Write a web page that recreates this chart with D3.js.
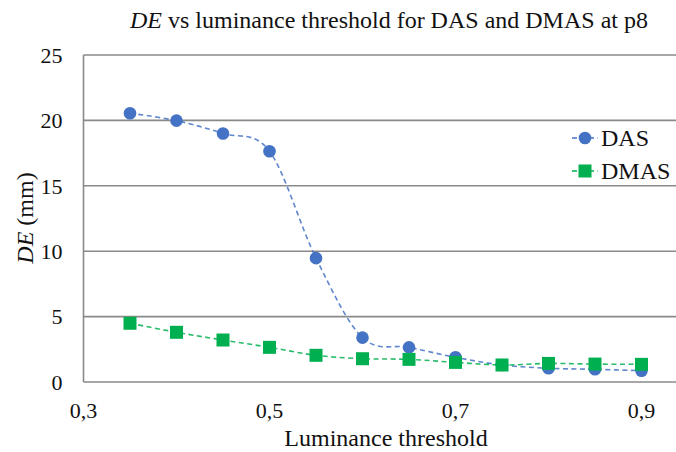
<!DOCTYPE html>
<html><head><meta charset="utf-8">
<script src="https://cdn.jsdelivr.net/npm/d3@7"></script>
</head><body style="margin:0">
<svg id="chart" width="676" height="452" style="font-family:'Liberation Serif'"></svg>
<script>
const thresholds = [0.35,0.40,0.45,0.50,0.55,0.60,0.65,0.70,0.75,0.80,0.85,0.90];
const dasValues  = [20.55,19.98,19.0,17.64,9.47,3.39,2.65,1.89,1.3,1.05,0.97,0.86];
const dmasValues = [4.49,3.8,3.21,2.65,2.04,1.78,1.73,1.5,1.3,1.42,1.37,1.35];
const xTicks = [0.3,0.5,0.7,0.9];
const yTicks = [0,5,10,15,20,25];
const seriesNames = ["DAS","DMAS"];
const colors = ["#4472C4","#00B050"];

const svg = d3.select("#chart");
const x = d3.scaleLinear().domain([0.3,1.0]).range([83.5,734.5]);
const y = d3.scaleLinear().domain([0,25]).range([382,55]);
const tickFs = "22px", labFs = "24px";
const styleText = (sel, size) => sel.style("font-family",'"Liberation Serif"').style("font-size",size).style("fill","#111");

svg.append("rect").attr("width",676).attr("height",452).attr("fill","#fff");
svg.append("g").selectAll("line").data(yTicks.filter(d=>d>0)).join("line")
  .attr("x1",x(0.3)).attr("x2",676).attr("y1",d=>y(d)).attr("y2",d=>y(d))
  .attr("stroke","#8a8a8a").attr("stroke-width",1.6);
svg.append("line").attr("x1",x(0.3)).attr("x2",x(0.3)).attr("y1",y(25)).attr("y2",y(0))
  .attr("stroke","#8a8a8a").attr("stroke-width",1.6);
svg.append("line").attr("x1",x(0.3)).attr("x2",676).attr("y1",y(0)).attr("y2",y(0))
  .attr("stroke","#8a8a8a").attr("stroke-width",1.6);

svg.append("g").selectAll("text").data(yTicks).join("text")
  .attr("x",x(0.3)-21).attr("y",d=>y(d)).attr("dy","0.35em").attr("text-anchor","end")
  .text(d=>d).call(s=>styleText(s,tickFs));
svg.append("g").selectAll("text").data(xTicks).join("text")
  .attr("x",d=>x(d)).attr("y",y(0)+36).attr("text-anchor","middle")
  .text(d=>d3.format(".1f")(d).replace(".",",")).call(s=>styleText(s,tickFs));

const data = [dasValues, dmasValues];
const line = d3.line().x((d,i)=>x(thresholds[i])).y(d=>y(d)).curve(d3.curveCardinal.tension(0));
data.forEach((vals,k)=>{
  svg.append("path").attr("d",line(vals)).attr("fill","none")
    .attr("stroke",colors[k]).attr("stroke-width",1.6).attr("stroke-dasharray","5,3.5").attr("opacity",0.85);
});
svg.append("g").selectAll("circle").data(dasValues).join("circle")
  .attr("cx",(d,i)=>x(thresholds[i])).attr("cy",d=>y(d)).attr("r",6.3)
  .attr("fill",colors[0]);
svg.append("g").selectAll("rect").data(dmasValues).join("rect")
  .attr("x",(d,i)=>x(thresholds[i])-6.5).attr("y",d=>y(d)-6.5).attr("width",13).attr("height",13)
  .attr("fill",colors[1]);

const lg = svg.append("g");
seriesNames.forEach((n,k)=>{
  const cy = 138 + k*33;
  lg.append("line").attr("x1",572).attr("x2",598).attr("y1",cy).attr("y2",cy)
    .attr("stroke",colors[k]).attr("stroke-width",1.6).attr("stroke-dasharray","5,3.5");
  if(k===0) lg.append("circle").attr("cx",585).attr("cy",cy).attr("r",6.3).attr("fill",colors[0]);
  else lg.append("rect").attr("x",585-6.5).attr("y",cy-6.5).attr("width",13).attr("height",13).attr("fill",colors[1]);
  styleText(lg.append("text").attr("x",601).attr("y",cy+8).text(n), labFs);
});

const t = styleText(svg.append("text").attr("x",389).attr("y",28).attr("text-anchor","middle"), labFs);
t.append("tspan").style("font-style","italic").text("DE");
t.append("tspan").text(" vs luminance threshold for DAS and DMAS at p8");

styleText(svg.append("text").attr("x",386).attr("y",446).attr("text-anchor","middle").text("Luminance threshold"), labFs);
const yt = styleText(svg.append("text").attr("transform","translate(33,218) rotate(-90)").attr("text-anchor","middle"), labFs);
yt.append("tspan").style("font-style","italic").text("DE");
yt.append("tspan").text(" (mm)");
</script>
</body></html>
